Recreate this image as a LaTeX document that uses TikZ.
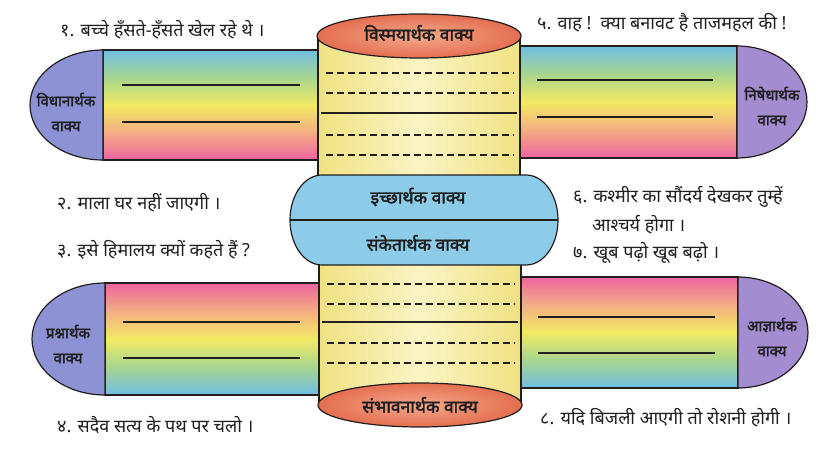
\documentclass[tikz,border=0pt]{standalone}
\usepackage{fontspec}
\newfontfamily\deva[Script=Devanagari]{Noto Sans}
\newfontfamily\devabold[Script=Devanagari, FakeBold=2.2]{Noto Sans}
\usepackage{tikz}
\usetikzlibrary{calc}
\definecolor{inkline}{RGB}{35,30,30}
\definecolor{inktext}{RGB}{30,30,30}
\definecolor{bandblue}{RGB}{110,190,228}
\definecolor{bandgreen}{RGB}{170,214,140}
\definecolor{bandyellow}{RGB}{242,234,100}
\definecolor{bandorange}{RGB}{244,176,130}
\definecolor{bandpink}{RGB}{236,100,160}
\definecolor{capblue}{RGB}{140,146,212}
\definecolor{capviolet}{RGB}{164,140,208}
\definecolor{cylyellow}{RGB}{240,226,130}
\definecolor{cyllight}{RGB}{250,244,196}
\definecolor{lidlight}{RGB}{245,170,140}
\definecolor{liddark}{RGB}{228,110,80}
\definecolor{pillblue}{RGB}{140,204,232}
\pgfdeclareverticalshading{bandtop}{100bp}{color(0bp)=(bandpink); color(25bp)=(bandpink);
  color(38bp)=(bandorange); color(50bp)=(bandyellow); color(62bp)=(bandgreen);
  color(75bp)=(bandblue); color(100bp)=(bandblue)}
\pgfdeclareverticalshading{bandbottom}{100bp}{color(0bp)=(bandblue); color(25bp)=(bandblue);
  color(38bp)=(bandgreen); color(50bp)=(bandyellow); color(62bp)=(bandorange);
  color(75bp)=(bandpink); color(100bp)=(bandpink)}
\tikzset{
    outline/.style={draw=inkline, line width=1.2pt},
    band/.style={outline, shade},
    cylbody/.style={left color=cylyellow, right color=cylyellow, middle color=cyllight},
    lid/.style={outline, inner color=lidlight, outer color=liddark},
    writeline/.style={draw=inkline, line width=1.2pt},
    dashline/.style={draw=inkline, line width=1.3pt, dash pattern=on 7pt off 4pt},
    sentence/.style={anchor=west, inner sep=0pt, text=inktext, font=\deva\fontsize{18}{21}\selectfont},
    typelabel/.style={align=center, inner sep=0pt, text=inktext, font=\devabold\fontsize{15}{25}\selectfont},
    bigtype/.style={typelabel, font=\devabold\fontsize{17.5}{21}\selectfont}
}

\begin{document}
\begin{tikzpicture}[x=1pt, y=-1pt]
    \useasboundingbox (0,0) rectangle (820,452);
    % Pattiyan upar
    \path[band, shading=bandtop] (103,50) rectangle (330,160);
    \path[band, shading=bandtop] (508,46) rectangle (737,158);
    \path[outline, fill=capblue] (103,50) arc[start angle=270, end angle=90, x radius=73, y radius=55] -- cycle;
    \path[outline, fill=capviolet] (737,46) arc[start angle=-90, end angle=90, x radius=70, y radius=56] -- cycle;
    % Pattiyan neeche
    \path[band, shading=bandbottom] (105,283) rectangle (330,395);
    \path[band, shading=bandbottom] (508,277) rectangle (738,388);
    \path[outline, fill=capblue] (105,283) arc[start angle=270, end angle=90, x radius=73, y radius=56] -- cycle;
    \path[outline, fill=capviolet] (738,277) arc[start angle=-90, end angle=90, x radius=70, y radius=55.5] -- cycle;
    % Likhne ki rekhayen
    \foreach \y in {85,122} \draw[writeline] (122,\y) -- (300,\y);
    \foreach \y in {80,117} \draw[writeline] (537,\y) -- (713,\y);
    \foreach \y in {322,358} \draw[writeline] (123,\y) -- (300,\y);
    \foreach \y in {317,353} \draw[writeline] (538,\y) -- (715,\y);
    % Belan upar
    \shade[cylbody] (318,36) rectangle (520,185);
    \draw[outline] (318,36) -- (318,185) (520,36) -- (520,185);
    \foreach \y in {73,93,135,155} \draw[dashline] (326,\y) -- (514,\y);
    \draw[writeline] (321,113) -- (517,113);
    \path[lid] (419,36) ellipse[x radius=102, y radius=22];
    % Belan neeche
    \shade[cylbody] (319,258) rectangle (521,405);
    \draw[outline] (319,258) -- (319,405) (521,258) -- (521,405);
    \foreach \y in {284,304,343,363} \draw[dashline] (327,\y) -- (515,\y);
    \draw[writeline] (322,322) -- (518,322);
    \path[lid] (420,405) ellipse[x radius=102, y radius=22];
    % Beech ka kaipsool
    \path[outline, fill=pillblue] (322,175) -- (526,175) arc[start angle=-90, end angle=90, x radius=32, y radius=45]
        -- (322,265) arc[start angle=90, end angle=270, x radius=32, y radius=45] -- cycle;
    \draw[writeline] (290,220) -- (558,220);
    % Vakya prakar
    \node[typelabel] (vidhan) at (66,112) {विधानार्थक\\वाक्य};
    \node[typelabel] (nishedh) at (772,106) {निषेधार्थक\\वाक्य};
    \node[typelabel] (prashn) at (68,344) {प्रश्नार्थक\\वाक्य};
    \node[typelabel] (aagya) at (772,337) {आज्ञार्थक\\वाक्य};
    \node[bigtype] (vismay) at (419,33) {विस्मयार्थक वाक्य};
    \node[bigtype] (sambhav) at (420,405) {संभावनार्थक वाक्य};
    \node[bigtype] (ichchha) at (418,197) {इच्छार्थक वाक्य};
    \node[bigtype] (sanket) at (418,243) {संकेतार्थक वाक्य};
    % Udaharan vakya
    \node[sentence] (s1) at (60,30) {१. बच्चे हँसते-हँसते खेल रहे थे ।};
    \node[sentence] (s2) at (57,203) {२. माला घर नहीं जाएगी ।};
    \node[sentence] (s3) at (57,250) {३. इसे हिमालय क्यों कहते हैं ?};
    \node[sentence] (s4) at (57,425) {४. सदैव सत्य के पथ पर चलो ।};
    \node[sentence] (s5) at (537,23) {५. वाह !\ \ क्या बनावट है ताजमहल की !};
    \node[sentence] (s6) at (573,197) {६. कश्मीर का सौंदर्य देखकर तुम्हें};
    \node[sentence] (s6b) at (592,225) {आश्चर्य होगा ।};
    \node[sentence] (s7) at (573,253) {७. खूब पढ़ो खूब बढ़ो ।};
    \node[sentence] (s8) at (540,418) {८. यदि बिजली आएगी तो रोशनी होगी ।};
\end{tikzpicture}
\end{document}
